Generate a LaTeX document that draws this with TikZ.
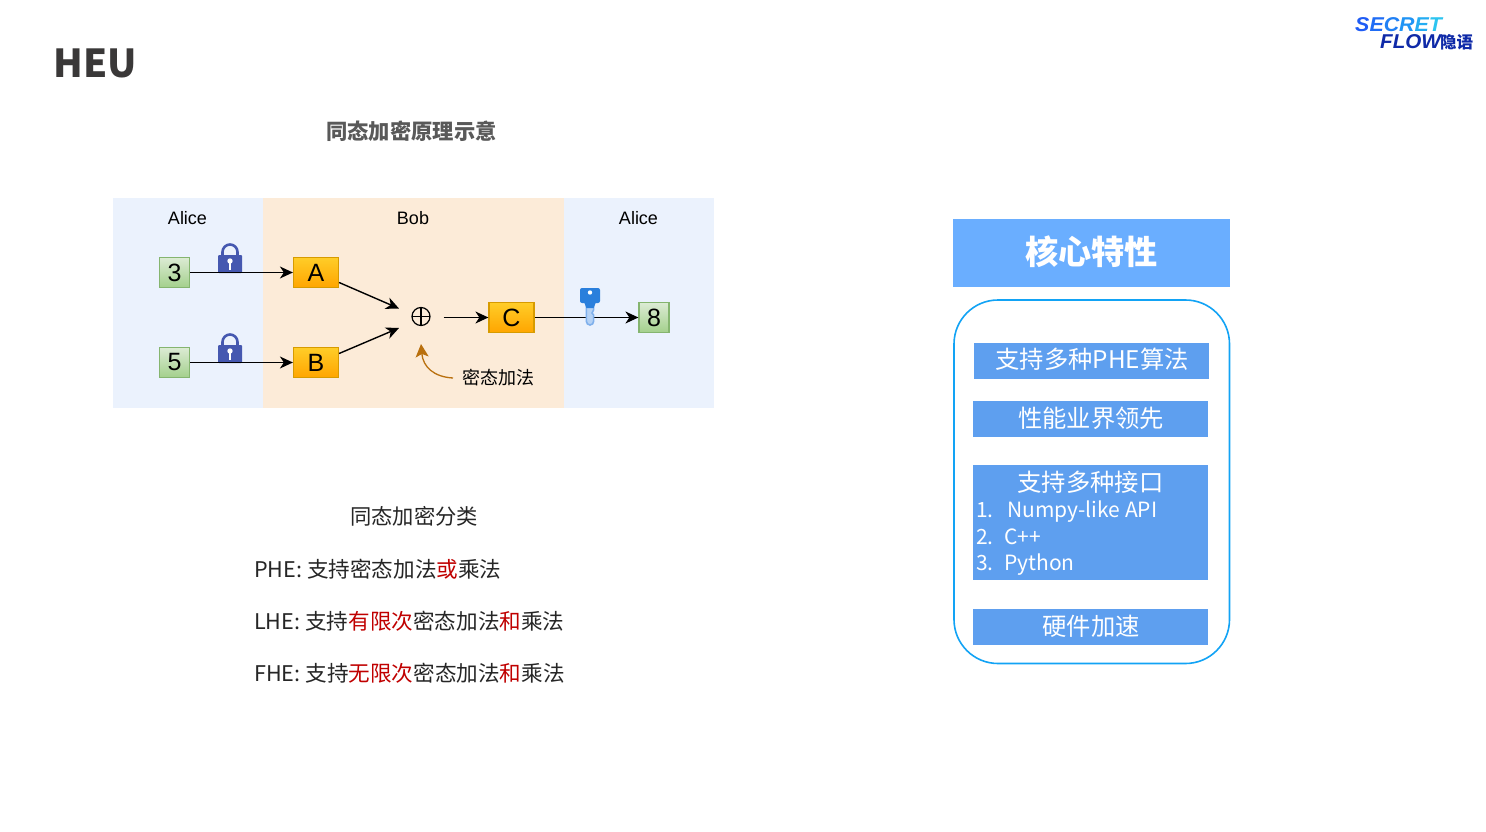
\documentclass[tikz,border=0pt]{standalone}
\usepackage{fontspec}
\setmainfont{Noto Sans CJK SC}
\newfontfamily\cjk{Noto Sans CJK SC}
\newfontfamily\helv{Liberation Sans}
\newcommand{\fs}[1]{\fontsize{#1}{#1}\selectfont}
\definecolor{alicebg}{HTML}{EBF2FD}
\definecolor{bobbg}{HTML}{FCEBD8}
\definecolor{panelblue}{HTML}{5E9FEF}
\definecolor{headblue}{HTML}{6AAEFF}
\definecolor{outline}{HTML}{12A3F5}
\definecolor{lockblue}{HTML}{4558B0}
\definecolor{redtext}{HTML}{C00000}
\definecolor{curve}{HTML}{B9700E}
\definecolor{titlegray}{HTML}{595959}
\definecolor{darktext}{HTML}{262626}
\definecolor{heutext}{HTML}{3A3838}
\definecolor{grntop}{HTML}{DCEBD4}
\definecolor{grnbot}{HTML}{A3D08C}
\definecolor{grnline}{HTML}{85B56F}
\definecolor{orgtop}{HTML}{FFCD28}
\definecolor{orgbot}{HTML}{FFA500}
\definecolor{orgline}{HTML}{D79B00}
\definecolor{keyhead}{HTML}{2A7FDC}
\definecolor{keyedge}{HTML}{7FB0EC}
\definecolor{keyfill}{HTML}{B5D2F5}
\definecolor{lgA}{HTML}{1F5CF5}
\definecolor{lgB}{HTML}{1F6CF5}
\definecolor{lgC}{HTML}{2080F5}
\definecolor{lgD}{HTML}{2094F5}
\definecolor{lgE}{HTML}{24ACF2}
\definecolor{lgF}{HTML}{2CC4F0}
\definecolor{lgdark}{HTML}{0F2AA8}
\usetikzlibrary{arrows.meta}
\tikzset{
 x=1pt,y=-1pt,
 grn/.style={draw=grnline,line width=1.2pt,top color=grntop,bottom color=grnbot,
   minimum width=30pt,minimum height=30pt,inner sep=0,font=\helv\fs{25}},
 org/.style={draw=orgline,line width=1.2pt,top color=orgtop,bottom color=orgbot,
   minimum width=45pt,minimum height=30pt,inner sep=0,font=\helv\fs{25}},
 who/.style={font=\helv\fs{18},inner sep=0},
 arr/.style={-{Stealth[length=13pt,width=12pt,inset=4pt]},line width=1.4pt},
 feat/.style={fill=panelblue,draw=none,inner sep=0,minimum width=235pt,text=white,font=\cjk\fs{24.3}},
 captxt/.style={font=\cjk\fs{21.6},text=darktext,inner sep=0,anchor=base west},
 lst/.style={text=white,inner sep=0,anchor=base west,font=\fs{21}},
}
\newcommand{\lockat}[2]{\begin{scope}[shift={(#1,#2)}]
 \draw[lockblue,line width=2.6pt] (-7.5,-15) -- (-7.5,-21) arc[start angle=180,end angle=360,radius=7.5] -- (7.5,-15);
 \fill[lockblue,rounded corners=1pt] (-12,0) rectangle (12,-18);
 \fill[white] (0,-12) circle (2.7); \fill[white] (-1.2,-12) rectangle (1.2,-3);
\end{scope}}
\begin{document}
\begin{tikzpicture}
\useasboundingbox (0,0) rectangle (1486,832);
\fill[white] (0,0) rectangle (1486,832);
% title
\node[font=\cjk\fs{38.5}\bfseries,text=heutext,inner sep=0,anchor=base west] (title) at (53.5,77.5) {HEU};
\node[font=\cjk\fs{21.3}\bfseries,text=titlegray,inner sep=0] (sub) at (411.5,131) {同态加密原理示意};
% logo
\begin{scope}[shift={(1355,24.5)},xscale=1.07]
\node[transform shape,font=\helv\bfseries\itshape\fs{20},inner sep=0,anchor=west] (lg1) at (0,0) {\textcolor{lgA}{S}\textcolor{lgB}{E}\textcolor{lgC}{C}\textcolor{lgD}{R}\textcolor{lgE}{E}\textcolor{lgF}{T}};
\end{scope}
\begin{scope}[shift={(1380,42)},xscale=1.03]
\node[transform shape,font=\helv\bfseries\itshape\fs{20},text=lgdark,inner sep=0,anchor=west] (lg2) at (0,0) {FLOW};
\end{scope}
\node[font=\cjk\fs{16.5}\bfseries,text=lgdark,inner sep=0,anchor=west] (lg3) at (1440,42) {隐语};
% bands
\fill[alicebg] (113,198) rectangle (263,408);
\fill[bobbg] (263,198) rectangle (564,408);
\fill[alicebg] (564,198) rectangle (714,408);
\node[who] (al) at (187.5,218) {Alice};
\node[who] (bo) at (413,218) {Bob};
\node[who] (ar) at (638.5,218) {Alice};
% locks
\lockat{230}{273}
\lockat{230}{363}
% nodes
\node[grn] (n3) at (174.5,272.5) {3};
\node[grn] (n5) at (174.5,362.5) {5};
\node[grn] (n8) at (654,317.5) {8};
\node[org] (A) at (316,272.5) {A};
\node[org] (B) at (316,362.5) {B};
\node[org] (C) at (511.5,317.5) {C};
\node[inner sep=0,minimum size=20pt] (plus) at (421,316.5) {};
\draw[line width=1.2pt] (plus.center) circle (9);
\draw[line width=1.2pt] (412,316.5) -- (430,316.5) (421,307.5) -- (421,325.5);
\coordinate (inA) at (399,308.5);
\coordinate (inB) at (399,328);
\coordinate (outP) at (443.5,317.5);
\draw[arr] (n3) -- (A);
\draw[arr] (n5) -- (B);
\draw[arr] (A.east) ++(0,10) -- (inA);
\draw[arr] (B.east) ++(0,-9) -- (inB);
\draw[arr] (outP) -- (C);
\draw[arr] (C) -- (n8);
% key
\begin{scope}[shift={(590,288)}]
 \draw[keyedge,line width=1.6pt,fill=keyfill] (-3.6,12) -- (-3.6,33.4) arc[start angle=180,end angle=0,radius=3.6] -- (3.6,27) -- (2,25) -- (3.6,22) -- (3.6,12);
 \fill[keyhead,rounded corners=2pt] (-10,0) rectangle (10,15);
 \fill[keyhead] (-6,14) -- (6,14) -- (3.6,20) -- (-3.6,20) -- cycle;
 \fill[white] (0,4.5) circle (2.2);
\end{scope}
% curved note
\node[font=\cjk\fs{18},text=black,inner sep=0,anchor=west] (note) at (462,377.5) {密态加法};
\coordinate (cv) at (453,378);
\coordinate (cvt) at (421,344);
\draw[curve,line width=1.3pt,-{Stealth[length=13pt,width=13pt,inset=3pt]}] (cv) .. controls (434,377) and (423,367) .. (cvt);
% classes
\node[font=\cjk\fs{21.3},text=darktext,inner sep=0] (cl) at (414,516) {同态加密分类};
\node[captxt] (phe) at (254,577) {PHE: 支持密态加法\textcolor{redtext}{或}乘法};
\node[captxt] (lhe) at (254,629) {LHE: 支持\textcolor{redtext}{有限次}密态加法\textcolor{redtext}{和}乘法};
\node[captxt] (fhe) at (254,681) {FHE: 支持\textcolor{redtext}{无限次}密态加法\textcolor{redtext}{和}乘法};
% right side
\node[fill=headblue,inner sep=0,minimum width=277pt,minimum height=68pt] (head) at (1091.5,253) {};
\node[text=white,font=\cjk\bfseries\fs{33.2},inner sep=0] (headt) at (1091.5,252) {核心特性};
\draw[outline,line width=1.6pt,rounded corners=44pt] (954,300) rectangle (1229.5,663.5);
\node[feat,minimum height=36pt] (f1) at (1091.5,360.5) {};
\node[text=white,font=\cjk\fs{24.3},inner sep=0] (f1t) at (1092,359.5) {支持多种PHE算法};
\node[feat,minimum height=36pt] (f2) at (1090.5,419) {};
\node[text=white,font=\cjk\fs{24.3},inner sep=0] (f2t) at (1091,418.5) {性能业界领先};
\node[feat,minimum height=115pt] (f3) at (1090.5,522) {};
\node[text=white,font=\cjk\fs{24.3},inner sep=0] (f3t) at (1090.5,482) {支持多种接口};
\node[lst] (l1) at (976,517.5) {1.};
\node[lst] (l1b) at (1007,517.5) {Numpy-like API};
\node[lst] (l2) at (976,544.5) {2.};
\node[lst] (l2b) at (1004,544.5) {C++};
\node[lst] (l3) at (976,570) {3.};
\node[lst] (l3b) at (1004,570) {Python};
\node[feat,minimum height=36pt] (f4) at (1090.5,627) {};
\node[text=white,font=\cjk\fs{24.3},inner sep=0] (f4t) at (1091,626.5) {硬件加速};
\end{tikzpicture}
\end{document}
